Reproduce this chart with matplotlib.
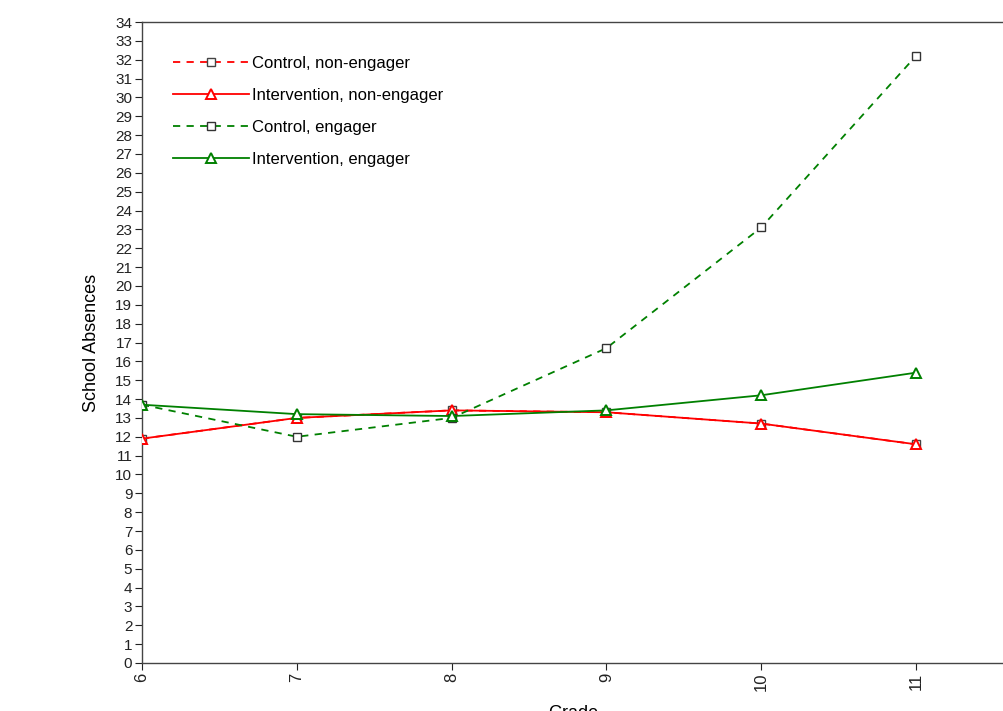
import matplotlib
matplotlib.use('Agg')
import matplotlib.pyplot as plt

plt.rcParams['font.family'] = ['Liberation Sans', 'DejaVu Sans']

GRADES = [6, 7, 8, 9, 10, 11]
CTRL_NON_ENG = [11.9, 13.0, 13.4, 13.3, 12.7, 11.6]
INTV_NON_ENG = [11.9, 13.0, 13.4, 13.3, 12.7, 11.6]
CTRL_ENG = [13.7, 12.0, 13.0, 16.7, 23.1, 32.2]
INTV_ENG = [13.7, 13.2, 13.1, 13.4, 14.2, 15.4]

RED = '#ff0000'
GREEN = '#008000'


fig = plt.figure(figsize=(10.04, 7.11), dpi=100)
ax = fig.add_axes([142 / 1004, 1 - 663 / 711, 1 - 142 / 1004, (663 - 22) / 711])

ax.plot(GRADES, INTV_NON_ENG, color=RED, lw=1.3, ls='-', marker='^',
        ms=6.5, mfc='white', mec=RED, mew=1.4,
        label='Intervention, non-engager', zorder=3)
ax.plot(GRADES, CTRL_NON_ENG, color=RED, lw=1.3, ls=(0, (4, 3.5)),
        marker='s', ms=5.5, mfc='white', mec='#444444', mew=1.0,
        label='Control, non-engager', zorder=2)
ax.plot(GRADES, CTRL_ENG, color=GREEN, lw=1.3, ls=(0, (4, 3.5)),
        marker='s', ms=5.5, mfc='white', mec='#333333', mew=1.0,
        label='Control, engager', zorder=3)
ax.plot(GRADES, INTV_ENG, color=GREEN, lw=1.3, ls='-', marker='^',
        ms=6.5, mfc='white', mec=GREEN, mew=1.4,
        label='Intervention, engager', zorder=3)

ax.set_xlim(6, 6 + (1004 - 142) / 154.8)
ax.set_ylim(0, 34)
ax.set_xticks(GRADES)
ax.set_xticklabels([str(g) for g in GRADES], rotation=90, fontsize=12)
ax.set_yticks(range(0, 35))
ax.tick_params(axis='y', labelsize=11, length=5, width=0.8, pad=2,
               colors='#222222')
ax.tick_params(axis='x', length=5, width=0.8, pad=2, colors='#222222')
ax.spines['right'].set_visible(False)
for s in ['left', 'bottom', 'top']:
    ax.spines[s].set_color('#444444')
    ax.spines[s].set_linewidth(1.0)

ax.set_ylabel('School Absences', fontsize=13, labelpad=11)
ax.set_xlabel('Grade', fontsize=13, labelpad=10)

handles, labels = ax.get_legend_handles_labels()
order = [1, 0, 2, 3]
ax.legend([handles[i] for i in order], [labels[i] for i in order],
          loc='upper left', bbox_to_anchor=(0.018, 0.971), frameon=False,
          fontsize=12, handlelength=4.6, handletextpad=0.15,
          labelspacing=1.02)

fig.savefig('out.png', dpi=100)
